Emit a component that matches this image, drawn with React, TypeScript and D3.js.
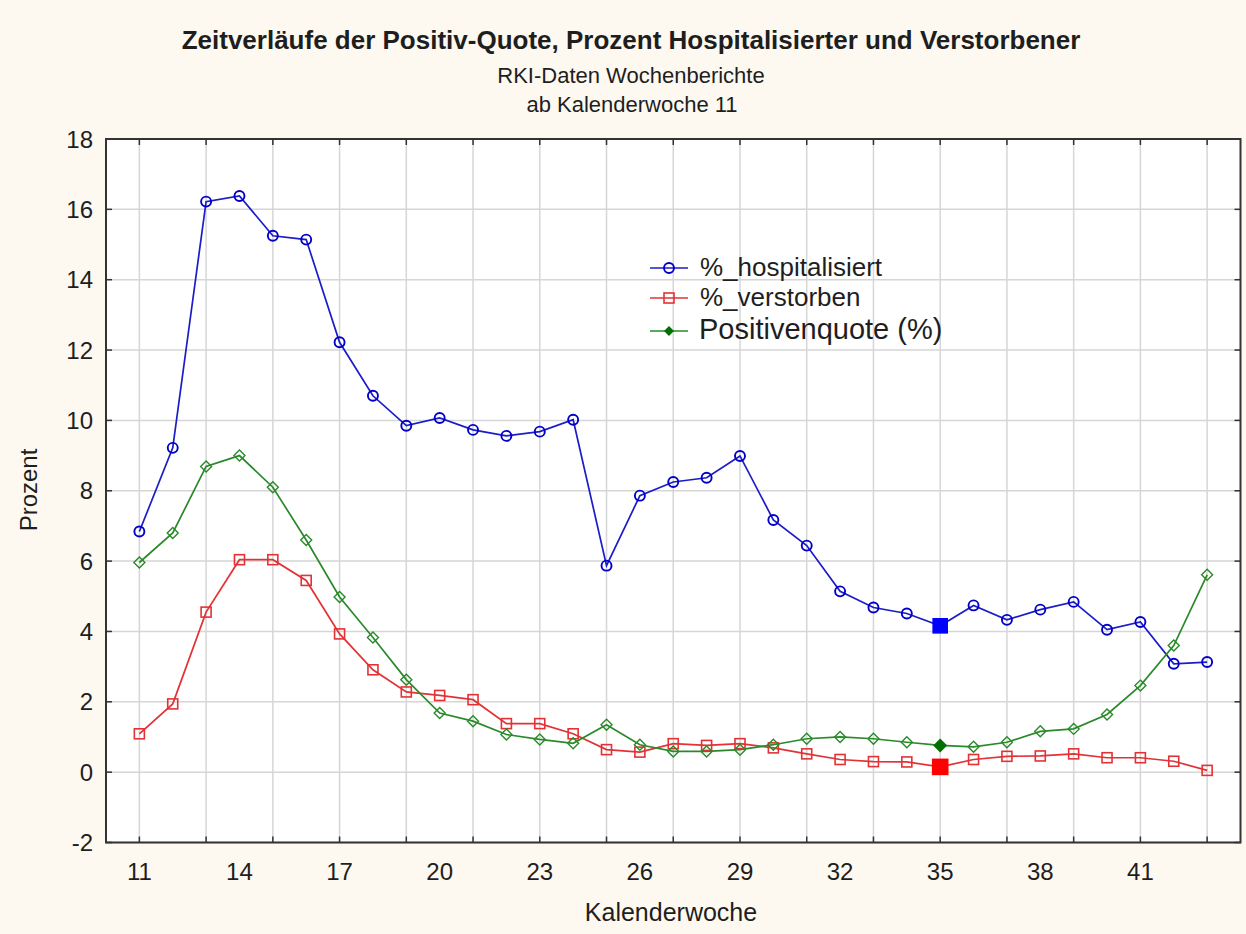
import React from "react";
import * as d3 from "d3";

const weeks = [11,12,13,14,15,16,17,18,19,20,21,22,23,24,25,26,27,28,29,30,31,32,33,34,35,36,37,38,39,40,41,42,43];
const hospitalisiert = [6.84,9.22,16.22,16.38,15.25,15.14,12.22,10.7,9.85,10.07,9.73,9.56,9.68,10.02,5.87,7.86,8.25,8.37,8.99,7.17,6.44,5.14,4.68,4.51,4.16,4.74,4.33,4.62,4.84,4.05,4.27,3.08,3.13];
const verstorben = [1.09,1.94,4.55,6.04,6.04,5.45,3.93,2.91,2.28,2.18,2.06,1.38,1.38,1.09,0.64,0.57,0.81,0.76,0.81,0.69,0.52,0.36,0.3,0.29,0.15,0.36,0.45,0.46,0.52,0.41,0.41,0.31,0.05];
const positivenquote = [5.96,6.8,8.69,9.0,8.1,6.6,4.98,3.83,2.63,1.68,1.45,1.07,0.93,0.82,1.35,0.78,0.59,0.59,0.64,0.78,0.95,1.0,0.95,0.85,0.76,0.72,0.85,1.16,1.23,1.64,2.46,3.6,5.61];
const highlightWeek = 35;
const xTickLabels = [11,14,17,20,23,26,29,32,35,38,41];
const xGridWeeks = [11,13,15,17,19,21,23,25,27,29,31,33,35,37,39,41,43];
const yTicks = [-2,0,2,4,6,8,10,12,14,16,18];
const seriesNames = ["%_hospitalisiert", "%_verstorben", "Positivenquote (%)"];

const W = 1246, H = 934;
const L = 106, R = 1240.5, T = 139, B = 842.5;
const FONT = "'Liberation Sans', Arial, sans-serif";
const TXT = "#1e1e1e";
const BLUE = "#1c1cc8", RED = "#e23236", GREEN = "#2a8a2a";

export default function App() {
  const x = d3.scaleLinear().domain([10, 44]).range([L, R]);
  const y = d3.scaleLinear().domain([-2, 18]).range([B, T]);
  const line = d3.line<[number, number]>().x(d => x(d[0])).y(d => y(d[1]));

  const mk = (vals: number[]) => weeks.map((w, i) => [w, vals[i]] as [number, number]);
  const hosp = mk(hospitalisiert), vers = mk(verstorben), pos = mk(positivenquote);

  const circle = (cx: number, cy: number, col: string, key: string) => (
    <circle key={key} cx={cx} cy={cy} r={5} fill="none" stroke={col} strokeWidth={1.9} />
  );
  const square = (cx: number, cy: number, col: string, key: string, s = 10, filled = false) => (
    <rect key={key} x={cx - s / 2} y={cy - s / 2} width={s} height={s} fill={filled ? col : "none"} stroke={col} strokeWidth={1.6} />
  );
  const diamond = (cx: number, cy: number, col: string, key: string, s = 5.5, filled = false) => (
    <path key={key} d={`M${cx},${cy - s}L${cx + s},${cy}L${cx},${cy + s}L${cx - s},${cy}Z`} fill={filled ? col : "none"} stroke={col} strokeWidth={1.4} />
  );

  return (
    <svg width={W} height={H} style={{ position: "absolute", left: 0, top: 0, display: "block" }} fontFamily={FONT}>
      <rect x={0} y={0} width={W} height={H} fill="#fdf9f0" />
      <text x={631} y={49} textAnchor="middle" fontSize={26} fontWeight="bold" fill={TXT}>
        Zeitverläufe der Positiv-Quote, Prozent Hospitalisierter und Verstorbener
      </text>
      <text x={631} y={83} textAnchor="middle" fontSize={22} fill={TXT}>RKI-Daten Wochenberichte</text>
      <text x={632} y={112} textAnchor="middle" fontSize={22} fill={TXT}>ab Kalenderwoche 11</text>

      <rect x={L} y={T} width={R - L} height={B - T} fill="#ffffff" />
      {xGridWeeks.map(w => (
        <line key={"gx" + w} x1={x(w)} x2={x(w)} y1={T} y2={B} stroke="#d6d6d6" strokeWidth={1.5} />
      ))}
      {yTicks.map(v => (
        <line key={"gy" + v} x1={L} x2={R} y1={y(v)} y2={y(v)} stroke="#d6d6d6" strokeWidth={1.5} />
      ))}
      {xGridWeeks.map(w => (
        <g key={"tx" + w}>
          <line x1={x(w)} x2={x(w)} y1={B} y2={B - 6} stroke="#333" strokeWidth={1.5} />
          <line x1={x(w)} x2={x(w)} y1={T} y2={T + 6} stroke="#333" strokeWidth={1.5} />
        </g>
      ))}
      {yTicks.map(v => (
        <g key={"ty" + v}>
          <line x1={L} x2={L + 6} y1={y(v)} y2={y(v)} stroke="#333" strokeWidth={1.5} />
          <line x1={R} x2={R - 6} y1={y(v)} y2={y(v)} stroke="#333" strokeWidth={1.5} />
          <text x={93} y={y(v) + 8.5} textAnchor="end" fontSize={24} fill={TXT}>{v}</text>
        </g>
      ))}
      {xTickLabels.map(w => (
        <text key={"lx" + w} x={x(w)} y={880} textAnchor="middle" fontSize={24} fill={TXT}>{w}</text>
      ))}
      <text x={671} y={921} textAnchor="middle" fontSize={25} fill={TXT}>Kalenderwoche</text>
      <text transform="translate(37,490) rotate(-90)" textAnchor="middle" fontSize={24} fill={TXT}>Prozent</text>

      <path d={line(hosp) || ""} fill="none" stroke={BLUE} strokeWidth={1.7} />
      <path d={line(vers) || ""} fill="none" stroke={RED} strokeWidth={1.7} />
      <path d={line(pos) || ""} fill="none" stroke={GREEN} strokeWidth={1.7} />

      {hosp.map(([w, v]) => w === highlightWeek
        ? square(x(w), y(v), "#0000ff", "hm" + w, 14, true)
        : circle(x(w), y(v), "#0000c8", "hm" + w))}
      {vers.map(([w, v]) => w === highlightWeek
        ? square(x(w), y(v), "#ff0000", "vm" + w, 15, true)
        : square(x(w), y(v), RED, "vm" + w))}
      {pos.map(([w, v]) => w === highlightWeek
        ? diamond(x(w), y(v), "#007000", "pm" + w, 6, true)
        : diamond(x(w), y(v), GREEN, "pm" + w))}

      <rect x={L} y={T} width={R - L} height={B - T} fill="none" stroke="#333" strokeWidth={2} />

      {/* legend */}
      <g>
        <line x1={650} x2={688} y1={268} y2={268} stroke={BLUE} strokeWidth={1.7} />
        {circle(669, 268, "#0000c8", "lg1")}
        <text x={700} y={276} fontSize={26} fill={TXT}>{seriesNames[0]}</text>
        <line x1={650} x2={688} y1={298} y2={298} stroke={RED} strokeWidth={1.7} />
        {square(669, 298, RED, "lg2")}
        <text x={700} y={305.5} fontSize={26} fill={TXT}>{seriesNames[1]}</text>
        <line x1={650} x2={688} y1={331} y2={331} stroke={GREEN} strokeWidth={1.7} />
        {diamond(669, 331, "#007000", "lg3", 4, true)}
        <text x={699} y={338.5} fontSize={29} fill={TXT}>{seriesNames[2]}</text>
      </g>
    </svg>
  );
}
